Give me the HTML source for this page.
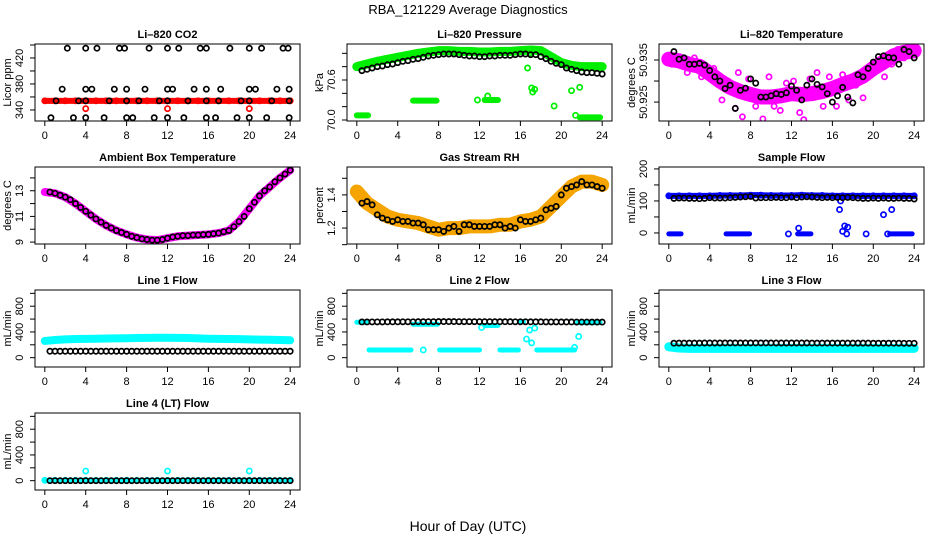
<!DOCTYPE html>
<html><head><meta charset="utf-8"><style>
body{margin:0;background:#fff;}
svg{display:block;font-family:"Liberation Sans",Arial,sans-serif;}
</style></head><body>
<svg id="chart" width="936" height="540" viewBox="0 0 936 540">
<rect width="936" height="540" fill="#fff"/>
<text x="468" y="14" text-anchor="middle" font-size="13">RBA_121229  Average Diagnostics</text>
<text x="468" y="531" text-anchor="middle" font-size="14">Hour of Day (UTC)</text>
</svg>
<script>
// ---------- data ----------
const hours = [0,1,2,3,4,5,6,7,8,9,10,11,12,13,14,15,16,17,18,19,20,21,22,23,24];
const halfHours = [0.5,1,1.5,2,2.5,3,3.5,4,4.5,5,5.5,6,6.5,7,7.5,8,8.5,9,9.5,10,10.5,11,11.5,12,12.5,13,13.5,14,14.5,15,15.5,16,16.5,17,17.5,18,18.5,19,19.5,20,20.5,21,21.5,22,22.5,23,23.5,24];
const xTicks = [0,4,8,12,16,20,24];

// CO2
const co2Red = [354,354,354,354,354,354,354,354,354,354,354,354,354,354,354,354,354,354,354,354,354,354,354,354,354];
const co2RedOutT = [4,12,20];
const co2RedOutV = [342,342,342];
const co2BlackT = [2.2,4,5.1,7.3,7.8,10.2,12,13.1,15.2,15.8,18.1,20,21.2,23.3,23.8,1.7,4,4.6,6.8,8,9.8,12,12.5,14.6,15.8,17.2,20,20.6,22.7,23.9,1.1,3.3,4,6.3,8,9.2,11.2,12,14,15.8,17,19.2,20,22.2,23.9,0.6,2.8,4,5.8,8,8.6,10.7,12,13.6,15.8,16.7,18.8,20,21.7,23.9];
const co2BlackV = [435,435,435,435,435,435,435,435,435,435,435,435,435,435,435,372,372,372,372,372,372,372,372,372,372,372,372,372,372,372,354,354,354,354,354,354,354,354,354,354,354,354,354,354,354,328,328,328,328,328,328,328,328,328,328,328,328,328,328,328];

// Pressure
const presGreen = [70.80,70.84,70.88,70.91,70.94,70.97,71.00,71.02,71.04,71.04,71.03,71.03,71.02,71.02,71.03,71.03,71.04,71.05,71.04,70.95,70.86,70.82,70.80,70.80,70.80];
const presBlack = [70.74,70.76,70.78,70.80,70.81,70.83,70.84,70.86,70.88,70.89,70.91,70.92,70.94,70.96,70.97,70.98,70.99,70.99,70.99,70.98,70.97,70.96,70.96,70.95,70.95,70.96,70.96,70.97,70.97,70.97,70.98,70.99,70.99,70.98,70.98,70.95,70.92,70.88,70.85,70.83,70.78,70.76,70.74,70.72,70.71,70.71,70.70,70.69];
const presLowStart = [0,5.5,12.5,21.8];
const presLowEnd = [1.1,7.8,13.8,23.8];
const presLowVal = [70.07,70.29,70.30,70.04];
const presOutT = [11.8,12.8,16.7,16.9,17.1,17.4,17.2,19.3,21.0,21.8,21.4];
const presOutV = [70.30,70.36,70.78,71.00,70.48,70.46,70.42,70.21,70.44,70.49,70.07];

// Temperature
const tempMag = [50.9352,50.9348,50.9340,50.9335,50.9318,50.9300,50.9285,50.9275,50.9268,50.9262,50.9262,50.9265,50.9270,50.9268,50.9270,50.9275,50.9282,50.9292,50.9300,50.9312,50.9330,50.9345,50.9360,50.9368,50.9372];
const tempMagOutT = [0.3,1.8,2.5,3.2,4.4,5.2,5.8,6.5,6.8,7.2,7.8,8.5,9.2,9.8,10.3,10.9,11.5,12.2,12.8,13.2,13.8,14.5,15.1,15.7,16.4,17.0,17.6,18.3,19.0,19.6,20.4,21.1,21.8,22.4,23.0];
const tempMagOutV = [50.9340,50.9320,50.9355,50.9310,50.9330,50.9255,50.9300,50.9235,50.9320,50.9215,50.9305,50.9240,50.9210,50.9310,50.9240,50.9230,50.9295,50.9300,50.9225,50.9208,50.9305,50.9320,50.9240,50.9310,50.9240,50.9315,50.9255,50.9290,50.9260,50.9330,50.9345,50.9310,50.9340,50.9375,50.9355];
const tempBlack = [50.9370,50.9352,50.9355,50.9340,50.9340,50.9342,50.9338,50.9325,50.9310,50.9300,50.9282,50.9290,50.9235,50.9278,50.9283,50.9305,50.9295,50.9262,50.9262,50.9265,50.9270,50.9268,50.9272,50.9288,50.9278,50.9255,50.9290,50.9305,50.9292,50.9286,50.9270,50.9250,50.9265,50.9285,50.9262,50.9248,50.9315,50.9310,50.9330,50.9345,50.9358,50.9360,50.9356,50.9355,50.9340,50.9375,50.9370,50.9355];

// Ambient
const ambMag = [12.9,12.8,12.5,12.0,11.4,10.8,10.3,9.9,9.6,9.35,9.2,9.15,9.3,9.45,9.5,9.55,9.6,9.7,9.9,10.6,11.6,12.6,13.3,14.0,14.6];
const ambBlack = [12.9,12.8,12.65,12.5,12.3,12.0,11.7,11.4,11.1,10.8,10.55,10.3,10.1,9.9,9.75,9.6,9.45,9.35,9.25,9.2,9.15,9.15,9.2,9.3,9.4,9.45,9.5,9.5,9.55,9.55,9.58,9.6,9.65,9.7,9.8,9.9,10.2,10.6,11.0,11.6,12.1,12.6,13.0,13.3,13.7,14.0,14.3,14.6];

// RH
const rhOrange = [1.42,1.35,1.31,1.27,1.25,1.24,1.23,1.21,1.19,1.20,1.20,1.21,1.21,1.21,1.22,1.22,1.24,1.25,1.27,1.33,1.39,1.45,1.48,1.48,1.46];
const rhBlack = [1.35,1.36,1.34,1.28,1.26,1.25,1.24,1.25,1.24,1.24,1.23,1.23,1.22,1.19,1.19,1.19,1.18,1.20,1.21,1.18,1.22,1.22,1.21,1.21,1.21,1.21,1.22,1.22,1.20,1.21,1.20,1.25,1.24,1.24,1.25,1.26,1.31,1.32,1.33,1.40,1.44,1.45,1.46,1.48,1.46,1.46,1.45,1.44];

// Sample flow
const sfBlue = [116,116,116,116,116,117,117,117,118,118,117,117,117,118,117,117,116,116,116,116,116,116,116,116,116];
const sfBlack = [108,109,109,108,108,107,108,110,109,109,109,110,111,112,113,114,109,110,110,110,111,110,110,112,110,112,113,112,111,110,111,110,111,110,111,110,109,108,108,109,108,109,108,108,109,108,108,106];
const sfLowStart = [0,5.6,12.6,21.6];
const sfLowEnd = [1.2,7.9,13.9,23.8];
const sfLowVal = [-3,-3,-3,-3];
const sfOutT = [11.7,12.7,16.7,16.8,17.0,17.2,17.5,17.4,19.3,21.0,21.8,21.4];
const sfOutV = [-3,15,73,100,5,22,18,-3,-3,57,73,-3];

// Line 1
const l1Cyan = [260,275,285,290,292,295,298,300,302,305,308,310,310,308,305,300,295,292,290,288,285,280,278,275,270];
const l1Black = [100,100,100,100,100,100,100,100,100,100,100,100,100,100,100,100,100,100,100,100,100,100,100,100,100,100,100,100,100,100,100,100,100,100,100,100,100,100,100,100,100,100,100,100,100,100,100,100];
// Line 2
const l2Black = [555,555,556,556,556,557,557,557,558,558,558,559,559,560,560,561,561,561,561,560,560,560,560,560,560,560,559,559,559,559,558,558,558,557,557,557,556,556,556,555,555,555,554,554,554,553,553,553];
const l2SegStart = [0,1.2,5.5,8.1,12.5,14.0,16.0,17.6,21.6];
const l2SegEnd = [1.0,5.3,7.9,12.0,13.8,15.8,16.3,21.3,23.8];
const l2SegVal = [550,120,520,120,500,120,560,120,545];
const l2OutT = [6.5,12.2,16.6,16.9,17.1,17.4,21.3,21.7];
const l2OutV = [120,470,290,430,230,460,160,330];
// Line 3
const l3Cyan = [170,150,145,145,145,145,145,145,145,145,145,145,145,145,145,145,145,145,145,145,145,145,145,145,145];
const l3Black = [225,226,226,227,227,227,228,228,228,228,229,229,229,229,229,229,229,229,229,229,228,228,228,228,228,228,228,227,227,227,227,227,227,227,226,226,226,226,226,225,225,225,225,225,225,224,224,224];
// Line 4
const l4Cyan = [5,5,5,5,5,5,5,5,5,5,5,5,5,5,5,5,5,5,5,5,5,5,5,5,5];
const l4Black = [0,0,0,0,0,0,0,0,0,0,0,0,0,0,0,0,0,0,0,0,0,0,0,0,0,0,0,0,0,0,0,0,0,0,0,0,0,0,0,0,0,0,0,0,0,0,0,0];
const l4OutT = [4,12,20];
const l4OutV = [150,150,150];

const flowTicks = [0,200,400,600,800,1000];
const flowLabels = [0,400,800];

// ---------- drawing ----------
const svg = document.getElementById('chart');
const NS = 'http://www.w3.org/2000/svg';
const colL = [35,347,659], rowT = [44,167,290,413], W = 265, H = 77;
const R = 2.6, SW = 1.7;
function mk(tag, attrs, parent){
  const e = document.createElementNS(NS, tag);
  for (const k in attrs) e.setAttribute(k, attrs[k]);
  (parent||svg).appendChild(e); return e;
}
function panel(name, title, col, row, ylo, yhi, ticks, labels, ylab, fmt){
  const L = colL[col], T = rowT[row];
  const g = mk('g', {});
  
  
  const X = t => L + (t + 0.96) / 25.92 * W;
  const Y = v => T + H - (v - ylo) / (yhi - ylo) * H;
  const clip = 'clip-' + name;
  const cp = mk('clipPath', {id: clip}, g);
  mk('rect', {x: L, y: T, width: W, height: H}, cp);
  const plot = mk('g', {'clip-path': 'url(#' + clip + ')'}, g);
  const box = mk('rect', {x: L, y: T, width: W, height: H, fill: 'none', stroke: '#000', 'stroke-width': 1}, g);
  
  
  const tt = mk('text', {x: L + W / 2, y: T - 6, 'text-anchor': 'middle', 'font-size': 11, 'font-weight': 'bold'}, g);
  tt.textContent = title;
  
  
  const xa = mk('g', {}, g);
  
  
  xTicks.forEach(t => {
    mk('line', {x1: X(t), x2: X(t), y1: T + H, y2: T + H + 5, stroke: '#000'}, xa);
    const lb = mk('text', {x: X(t), y: T + H + 18, 'text-anchor': 'middle', 'font-size': 11}, xa);
    lb.textContent = t;
  });
  const ya = mk('g', {}, g);
  
  
  ticks.forEach(v => mk('line', {x1: L - 5, x2: L, y1: Y(v), y2: Y(v), stroke: '#000'}, ya));
  labels.forEach(v => {
    const lb = mk('text', {x: L - 12, y: Y(v), 'text-anchor': 'middle', 'font-size': 11, transform: 'rotate(-90 ' + (L - 12) + ' ' + Y(v) + ')'}, ya);
    lb.textContent = fmt ? fmt(v) : v;
  });
  const yl = mk('text', {x: L - 24, y: T + H / 2, 'text-anchor': 'middle', 'font-size': 11, transform: 'rotate(-90 ' + (L - 24) + ' ' + (T + H / 2) + ')'}, g);
  yl.textContent = ylab;
  
  
  return {X, Y, plot, name};
}
function band(p, xs, vs, color, w, label){
  const pts = xs.map((t, i) => p.X(t) + ',' + p.Y(vs[i])).join(' ');
  const pl = mk('polyline', {points: pts, fill: 'none', stroke: color, 'stroke-width': w, 'stroke-linejoin': 'round', 'stroke-linecap': 'round'}, p.plot);
  
  
  xs.forEach((t, i) => mk('circle', {cx: p.X(t), cy: p.Y(vs[i]), r: R, fill: 'none', stroke: color, 'stroke-width': SW}, p.plot));
}
function pts(p, xs, vs, color, label){
  const g = mk('g', {}, p.plot);
  
  
  xs.forEach((t, i) => {
    const c = mk('circle', {cx: p.X(t), cy: p.Y(vs[i]), r: R, fill: 'none', stroke: color, 'stroke-width': SW}, g);
    
    
  });
}
function segs(p, s, e, v, color, w, label){
  s.forEach((a, i) => {
    const l = mk('line', {x1: p.X(a), x2: p.X(e[i]), y1: p.Y(v[i]), y2: p.Y(v[i]), stroke: color, 'stroke-width': w, 'stroke-linecap': 'round'}, p.plot);
    
    
  });
}

// Panel 1
let p = panel('co2-panel', 'Li\u2013820 CO2', 0, 0, 323, 441.5, [340,360,380,400,420,440], [340,380,420], 'Licor ppm');
band(p, hours, co2Red, '#ff0000', 6, 'red');
pts(p, co2RedOutT, co2RedOutV, '#ff0000', 'red-outlier');
pts(p, co2BlackT, co2BlackV, '#000', 'black');
// Panel 2
p = panel('pressure-panel', 'Li\u2013820 Pressure', 1, 0, 69.985, 71.14, [70.0,70.2,70.4,70.6,70.8,71.0], [70.0,70.6], 'kPa', v => v.toFixed(1));
band(p, hours, presGreen, '#00ee00', 9, 'green');
segs(p, presLowStart, presLowEnd, presLowVal, '#00ee00', 6, 'green-low');
pts(p, presOutT, presOutV, '#00ee00', 'green-outlier');
pts(p, halfHours, presBlack, '#000', 'black');
// Panel 3
p = panel('temperature-panel', 'Li\u2013820 Temperature', 2, 0, 50.9205, 50.9388, [50.925,50.930,50.935], [50.925,50.935], 'degrees C', v => v.toFixed(3));
band(p, hours, tempMag, '#ff00ff', 15, 'magenta');
pts(p, tempMagOutT, tempMagOutV, '#ff00ff', 'magenta-outlier');
pts(p, halfHours, tempBlack, '#000', 'black');
// Panel 4
p = panel('ambient-panel', 'Ambient Box Temperature', 0, 1, 8.85, 14.85, [9,10,11,12,13,14], [9,11,13], 'degrees C');
band(p, hours, ambMag, '#ff00ff', 8, 'magenta');
pts(p, halfHours, ambBlack, '#000', 'black');
// Panel 5
p = panel('rh-panel', 'Gas Stream RH', 1, 1, 1.104, 1.568, [1.1,1.2,1.3,1.4,1.5], [1.2,1.4], 'percent', v => v.toFixed(1));
band(p, hours, rhOrange, '#f5a400', 14, 'orange');
pts(p, halfHours, rhBlack, '#000', 'black');
// Panel 6
p = panel('sample-flow-panel', 'Sample Flow', 2, 1, -34.5, 206, [0,50,100,150,200], [0,100,200], 'mL/min');
band(p, hours, sfBlue, '#0000ff', 6, 'blue');
segs(p, sfLowStart, sfLowEnd, sfLowVal, '#0000ff', 5, 'blue-low');
pts(p, sfOutT, sfOutV, '#0000ff', 'blue-outlier');
pts(p, halfHours, sfBlack, '#000', 'black');
// Panel 7
p = panel('line1-flow-panel', 'Line 1 Flow', 0, 2, -145, 1052, flowTicks, flowLabels, 'mL/min');
band(p, hours, l1Cyan, '#00ffff', 8, 'cyan');
pts(p, halfHours, l1Black, '#000', 'black');
// Panel 8
p = panel('line2-flow-panel', 'Line 2 Flow', 1, 2, -145, 1052, flowTicks, flowLabels, 'mL/min');
segs(p, l2SegStart, l2SegEnd, l2SegVal, '#00ffff', 5, 'cyan');
pts(p, l2OutT, l2OutV, '#00ffff', 'cyan-outlier');
pts(p, halfHours, l2Black, '#000', 'black');
// Panel 9
p = panel('line3-flow-panel', 'Line 3 Flow', 2, 2, -145, 1052, flowTicks, flowLabels, 'mL/min');
band(p, hours, l3Cyan, '#00ffff', 9, 'cyan');
pts(p, halfHours, l3Black, '#000', 'black');
// Panel 10
p = panel('line4-flow-panel', 'Line 4 (LT) Flow', 0, 3, -145, 1052, flowTicks, flowLabels, 'mL/min');
band(p, hours, l4Cyan, '#00ffff', 5, 'cyan');
pts(p, l4OutT, l4OutV, '#00ffff', 'cyan-outlier');
pts(p, halfHours, l4Black, '#000', 'black');
</script>
</body></html>
